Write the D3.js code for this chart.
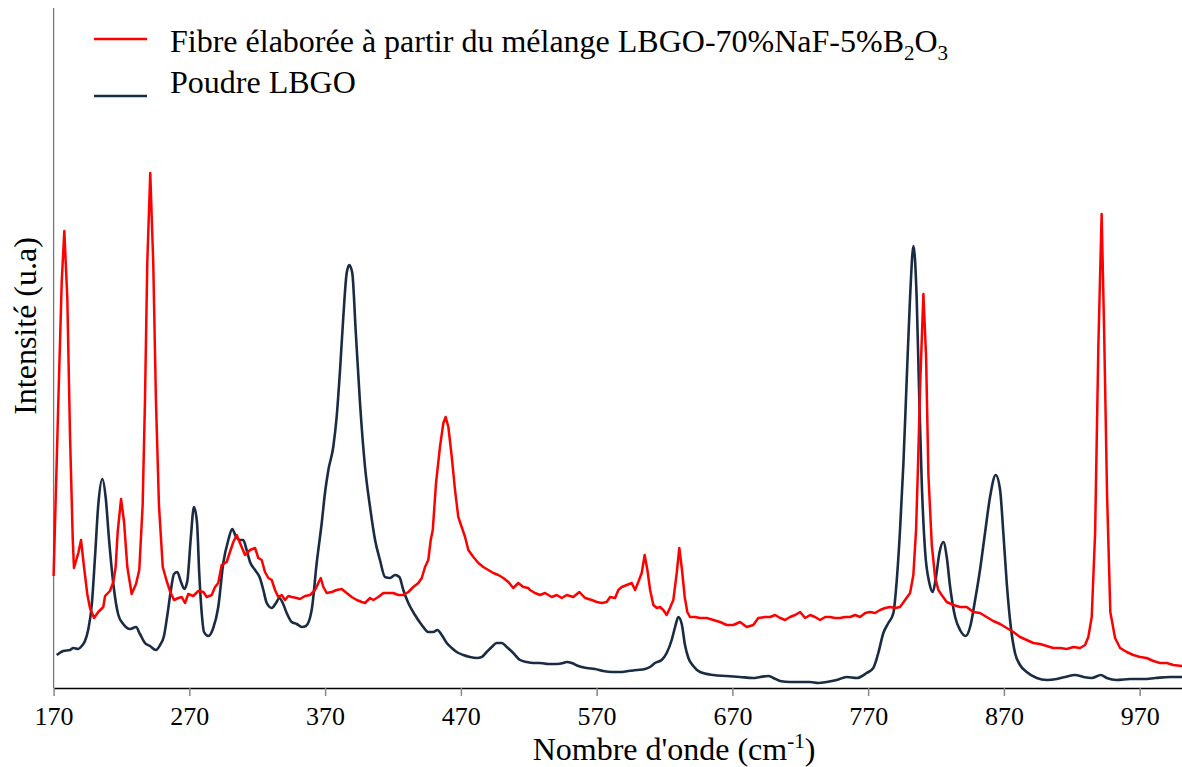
<!DOCTYPE html>
<html><head><meta charset="utf-8">
<script src="https://cdn.jsdelivr.net/npm/d3@7"></script>
<style>
html,body{margin:0;padding:0;background:#fff;}
svg text{font-family:"Liberation Serif","Times New Roman",serif;fill:#000;}
</style></head>
<body><svg id="c" width="1182" height="767"></svg>
<script>
const xTicks = [170,270,370,470,570,670,770,870,970];
const seriesNames = ["Fibre élaborée à partir du mélange LBGO-70%NaF-5%B", "Poudre LBGO"];
// Fibre LBGO-70%NaF-5%B2O3 : [wavenumber, intensity (a.u.)]
const fibreWave = [170.0,173.5,176.0,177.9,180.1,182.1,184.1,185.0,188.2,190.2,192.4,194.8,196.8,199.8,202.9,206.6,207.9,211.5,214.0,215.7,217.2,219.7,221.9,224.3,227.5,230.7,233.1,235.6,237.3,239.0,241.2,243.4,245.4,247.6,250.4,253.3,255.7,258.7,261.9,264.4,266.8,269.2,272.9,276.6,280.3,282.8,286.5,288.9,291.3,293.8,297.5,299.9,302.4,304.9,307.3,311.0,314.7,318.4,320.8,323.3,325.7,328.2,330.7,333.1,335.5,338.0,340.5,342.9,345.4,349.1,351.5,355.2,358.9,362.6,365.0,366.8,368.7,371.2,374.9,378.5,382.2,385.9,389.6,393.3,397.0,399.4,403.1,405.5,409.2,412.9,416.6,420.2,423.9,427.6,431.3,435.0,438.7,441.2,443.6,446.0,447.8,449.3,451.7,454.6,457.1,458.8,460.8,463.3,465.7,468.1,470.6,473.1,475.5,479.2,482.9,486.5,490.2,493.9,497.6,501.3,505.0,508.6,512.3,516.0,519.7,520.9,524.6,528.3,532.0,536.9,540.6,544.3,548.0,552.8,557.3,561.5,566.4,570.1,573.8,577.4,579.9,583.6,586.0,588.5,592.2,595.9,598.3,600.7,603.2,605.4,607.4,609.4,611.8,614.3,616.7,619.1,621.6,624.0,626.5,629.0,630.9,632.9,634.9,636.8,638.8,642.5,646.2,651.1,656.0,660.9,665.8,670.7,675.6,680.6,685.4,689.1,694.1,697.8,701.5,705.2,708.8,712.5,716.2,719.9,723.6,727.3,730.9,734.6,738.3,742.0,745.7,749.3,753.0,756.7,760.4,764.1,767.8,771.4,775.1,778.8,782.5,786.2,789.9,793.5,797.2,800.9,803.3,805.3,806.8,808.2,810.7,812.7,814.4,816.9,819.3,821.7,824.2,827.9,832.8,837.7,842.6,847.5,852.4,857.3,862.2,867.2,872.1,877.0,881.9,886.8,891.7,896.6,901.6,906.4,911.4,916.3,921.2,926.1,929.8,932.2,934.7,937.2,939.6,942.0,943.8,946.0,948.4,951.9,955.6,960.5,965.4,970.3,975.2,980.1,985.0,990.0,994.8,1001.2];
const fibreInt = [112,287,407,457,390,252,149,120,135,148,121,94,80,70,76,81,92,97,106,121,156,189,166,121,94,104,118,183,287,425,515,425,287,183,121,107,97,88,90,91,85,94,92,97,96,91,93,101,105,123,126,136,146,153,145,133,138,140,130,128,116,110,108,98,91,93,88,92,91,90,89,92,93,98,105,110,101,95,96,98,99,95,91,88,86,85,90,88,91,95,95,95,93,93,96,101,105,110,121,128,148,158,205,241,265,271,261,231,198,171,161,151,138,131,125,121,118,115,113,110,106,100,105,101,100,98,95,93,95,91,93,90,93,91,96,90,88,86,85,86,91,90,98,101,103,105,98,106,115,133,118,98,83,80,81,78,73,80,88,115,140,118,91,76,71,71,70,70,68,66,63,63,66,61,63,70,71,71,73,70,68,71,73,76,70,73,71,68,71,71,70,70,71,71,73,71,75,76,75,78,80,81,80,81,88,95,113,158,225,298,394,331,213,143,111,98,93,86,83,81,81,76,75,71,67,64,60,56,51,48,45,44,42,40,40,39,41,40,43,51,71,155,343,474,360,193,76,50,40,36,33,31,30,27,25,25,23,22];
// Poudre LBGO
const poudreWave = [172.3,177.1,182.1,184.5,188.2,190.7,193.1,195.6,198.1,200.5,202.9,205.9,208.4,210.8,214.0,217.7,221.3,226.3,230.7,233.6,237.3,241.0,245.4,248.4,251.3,253.8,256.3,258.7,261.1,263.6,266.3,268.5,271.0,273.4,275.6,277.3,279.1,280.8,284.0,287.6,291.3,295.0,298.7,301.6,304.4,307.3,309.7,312.2,314.7,318.4,322.0,324.5,327.0,330.7,333.8,336.3,338.8,341.7,345.4,349.1,352.8,355.9,360.1,363.8,367.5,369.9,372.4,376.0,378.5,381.0,383.4,385.9,387.8,390.0,392.5,395.7,399.4,403.1,406.8,410.4,414.1,417.8,421.5,424.7,427.6,431.3,436.2,441.2,446.0,449.7,452.7,455.9,459.6,463.3,466.9,471.8,476.7,481.7,485.4,489.0,492.7,496.4,500.1,503.8,508.6,513.6,518.5,523.4,528.3,534.4,540.6,545.5,547.9,551.7,556.5,562.7,568.8,574.9,581.1,587.2,593.3,599.5,605.7,609.3,613.0,617.9,621.6,625.3,627.8,630.2,632.7,635.1,637.6,641.2,646.2,656.0,665.8,675.6,685.4,690.4,696.5,700.2,705.1,712.5,719.9,727.2,733.3,739.5,746.9,754.2,761.6,768.9,773.8,777.5,781.2,784.9,788.6,791.1,793.5,796.0,798.4,800.9,803.4,805.8,807.7,809.5,811.9,815.1,817.6,820.0,822.5,825.4,827.9,830.4,834.1,837.7,841.9,845.1,848.8,852.4,856.1,859.8,864.0,867.2,869.6,872.1,875.1,878.2,881.9,886.8,894.2,901.6,908.9,915.1,922.5,928.6,934.7,941.4,945.8,953.2,963.0,972.8,981.6,992.4,1001.2];
const poudreInt = [33,37,38,40,39,42,47,59,83,131,183,209,190,149,104,73,64,59,61,54,45,42,38,43,52,73,97,114,116,107,99,107,149,181,166,114,75,56,52,60,81,125,148,159,151,148,148,138,126,118,110,98,85,80,85,90,85,75,66,64,61,62,78,125,165,195,218,241,271,318,371,415,423,415,358,285,221,181,148,128,111,110,113,111,98,85,73,63,56,56,58,53,45,40,36,33,31,30,31,36,41,45,45,41,35,28,26,25,25,24,24,25,26,25,22,20,19,17,16,16,17,18,19,21,25,28,35,48,61,71,64,43,30,22,16,13,12,11,10,11,12,10,7,6,6,6,5,6,8,11,10,15,20,35,55,65,75,108,158,225,308,391,442,388,288,205,138,105,96,111,135,146,131,101,71,58,52,61,88,118,155,191,213,198,155,105,61,35,23,16,10,8,9,11,13,11,10,13,10,8,9,9,10,11,11];

const svg = d3.select("#c");
const x = d3.scaleLinear().domain([170, 1001.2]).range([53.6, 1182]);
const y = d3.scaleLinear().domain([0, 680]).range([688, 8]);

const fibre = fibreWave.map((w,i)=>[w, fibreInt[i]]);
const poudre = poudreWave.map((w,i)=>[w, poudreInt[i]]);

const line = d3.line().x(d=>x(d[0])).y(d=>y(d[1]));
const smooth = d3.line().x(d=>x(d[0])).y(d=>y(d[1])).curve(d3.curveMonotoneX);

// axes
const xAxis = svg.append("g").attr("transform","translate(0,688)")
  .call(d3.axisBottom(x).tickValues(xTicks).tickSize(8).tickSizeOuter(0).tickPadding(11).tickFormat(d3.format("d")));
xAxis.select(".domain").attr("stroke","#000").attr("stroke-width",1.5);
xAxis.selectAll(".tick line").attr("stroke","#888").attr("stroke-width",1.5);
xAxis.selectAll(".tick text").style("font-size","26px").style("font-family","'Liberation Serif',serif").attr("fill","#000");

svg.append("line").attr("x1",53.6).attr("x2",53.6).attr("y1",8).attr("y2",688)
  .attr("stroke","#777").attr("stroke-width",1.3);

svg.append("path").datum(poudre).attr("d",smooth).attr("fill","none")
  .attr("stroke","#1a2b44").attr("stroke-width",2.6).attr("stroke-linejoin","round");
svg.append("path").datum(fibre).attr("d",line).attr("fill","none")
  .attr("stroke","#ff0000").attr("stroke-width",2.5).attr("stroke-linejoin","round");

// legend
const lg = svg.append("g");
lg.append("line").attr("x1",94).attr("x2",147).attr("y1",39).attr("y2",39).attr("stroke","#ff0000").attr("stroke-width",2.6);
lg.append("line").attr("x1",94).attr("x2",147).attr("y1",96).attr("y2",96).attr("stroke","#1a2b44").attr("stroke-width",2.6);
const t1 = lg.append("text").attr("x",170).attr("y",52).style("font-size","32px");
t1.append("tspan").text(seriesNames[0]);
t1.append("tspan").text("2").style("font-size","21px").attr("dy",8);
t1.append("tspan").text("O").attr("dy",-8);
t1.append("tspan").text("3").style("font-size","21px").attr("dy",8);
lg.append("text").attr("x",170).attr("y",93).style("font-size","32px").text(seriesNames[1]);

// axis titles
const xt = svg.append("text").attr("x",674).attr("y",760).attr("text-anchor","middle").style("font-size","32px");
xt.append("tspan").text("Nombre d'onde (cm");
xt.append("tspan").text("-1").style("font-size","21px").attr("dy",-12);
xt.append("tspan").text(")").attr("dy",12);

svg.append("text").attr("transform","translate(36,326) rotate(-90)").attr("text-anchor","middle")
  .style("font-size","32px").text("Intensité (u.a)");
</script></body></html>
